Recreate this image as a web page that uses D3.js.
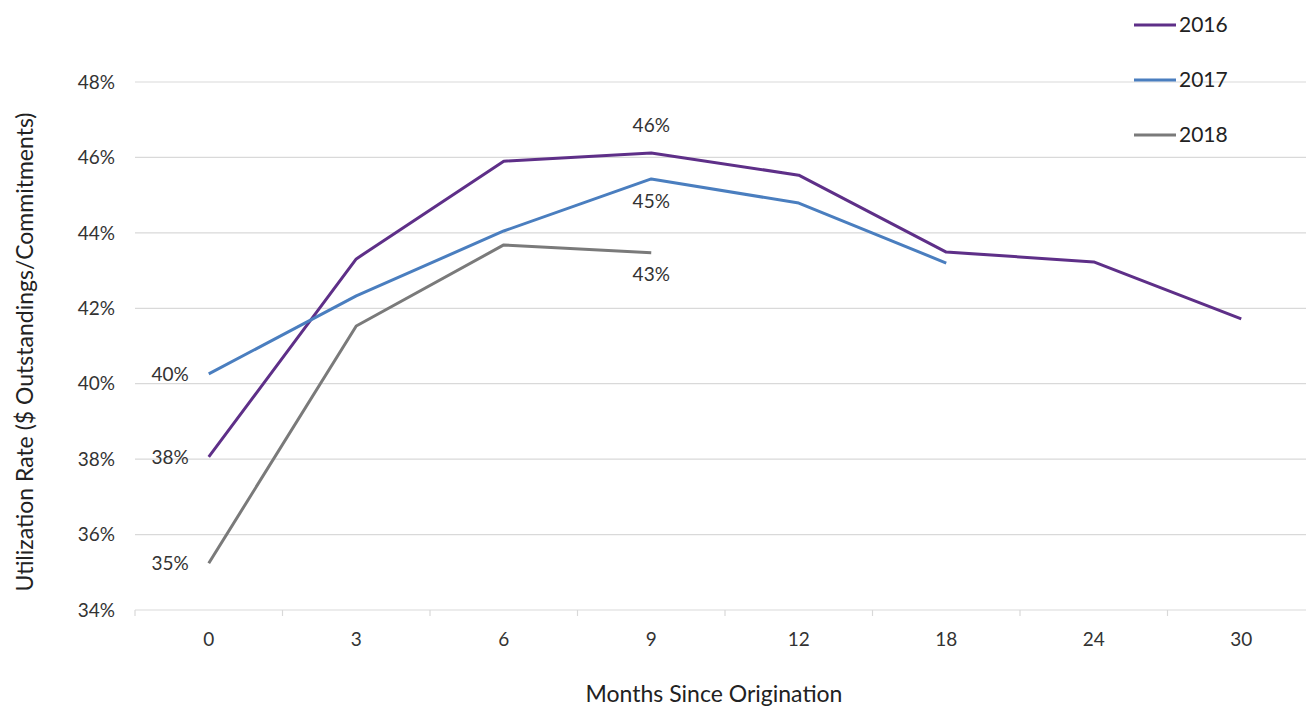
<!DOCTYPE html>
<html><head><meta charset="utf-8">
<script src="https://cdn.jsdelivr.net/npm/d3@7"></script>
<style>body{margin:0;background:#fff;} text{font-family:Lato,"Open Sans",sans-serif;}</style>
</head><body><svg id="c" width="1306" height="707"></svg>
<script>
const categories = ["0","3","6","9","12","18","24","30"];
const series2016 = [38.06, 43.31, 45.90, 46.12, 45.53, 43.49, 43.23, 41.72];
const series2017 = [40.26, 42.33, 44.05, 45.43, 44.79, 43.20];
const series2018 = [35.24, 41.53, 43.68, 43.47];
const yTicks = [34, 36, 38, 40, 42, 44, 46, 48];
const seriesNames = ["2016","2017","2018"];
const colors = ["#5e2f88","#4a7ebf","#7a7a7a"];
const labels = [
  {s:1, i:0, text:"40%", pos:"left"},
  {s:0, i:0, text:"38%", pos:"left"},
  {s:2, i:0, text:"35%", pos:"left"},
  {s:0, i:3, text:"46%", pos:"above"},
  {s:1, i:3, text:"45%", pos:"below"},
  {s:2, i:3, text:"43%", pos:"below"}
];
const allSeries = [series2016, series2017, series2018];

(function(){
const svg = d3.select("#c");
const pl = 135, pr = 1315, pt = 82, pb = 610;
const x = d3.scaleBand().domain(categories).range([pl, pr]);
const y = d3.scaleLinear().domain([34, 48]).range([pb, pt]);
const txt = "#333333";

svg.append("g").selectAll("line").data(yTicks).join("line")
  .attr("x1", pl).attr("x2", pr)
  .attr("y1", d => y(d)).attr("y2", d => y(d))
  .attr("stroke", "#d9d9d9").attr("stroke-width", 1.2);

svg.append("g").selectAll("text").data(yTicks).join("text")
  .attr("x", 115).attr("y", d => y(d)).attr("dy", "0.35em")
  .attr("text-anchor", "end").attr("font-size", 19).attr("fill", txt)
  .text(d => d + "%");

const xAxis = d3.axisBottom(x).tickSize(0).tickPadding(23);
const gx = svg.append("g").attr("transform", `translate(0,${pb})`).call(xAxis);
gx.select(".domain").remove();
gx.selectAll("text").attr("font-size", 19).attr("fill", txt).style("font-family","Lato,'Open Sans',sans-serif");
const bounds = categories.map(c => x(c)).concat([pr]);
svg.append("g").selectAll("line").data(bounds).join("line")
  .attr("x1", d => d).attr("x2", d => d)
  .attr("y1", pb).attr("y2", pb + 6)
  .attr("stroke", "#d9d9d9").attr("stroke-width", 1.2);

const line = d3.line().x((d, i) => x(categories[i]) + x.bandwidth() / 2).y(d => y(d));
allSeries.forEach((s, k) => {
  svg.append("path").datum(s).attr("d", line)
    .attr("fill", "none").attr("stroke", colors[k]).attr("stroke-width", 3)
    .attr("stroke-linejoin", "round");
});

svg.append("g").selectAll("text").data(labels).join("text")
  .attr("x", d => {
    const cx = x(categories[d.i]) + x.bandwidth() / 2;
    return d.pos === "left" ? cx - 20 : cx;
  })
  .attr("y", d => {
    const cy = y(allSeries[d.s][d.i]);
    return d.pos === "above" ? cy - 28 : d.pos === "below" ? cy + 22 : cy;
  })
  .attr("dy", "0.35em").attr("text-anchor", d => d.pos === "left" ? "end" : "middle")
  .attr("font-size", 19).attr("fill", txt)
  .text(d => d.text);

const lg = svg.append("g");
seriesNames.forEach((n, k) => {
  const ly = 25 + k * 55;
  lg.append("line").attr("x1", 1134).attr("x2", 1176).attr("y1", ly).attr("y2", ly)
    .attr("stroke", colors[k]).attr("stroke-width", 3);
  lg.append("text").attr("x", 1179).attr("y", ly).attr("dy", "0.35em")
    .attr("font-size", 21).attr("fill", "#222").text(n);
});

svg.append("text").attr("x", 714).attr("y", 694).attr("dy", "0.35em")
  .attr("text-anchor", "middle").attr("font-size", 23).attr("fill", "#222")
  .text("Months Since Origination");
svg.append("text").attr("transform", "translate(25,352) rotate(-90)")
  .attr("dy", "0.35em").attr("text-anchor", "middle").attr("font-size", 23).attr("fill", "#222")
  .text("Utilization Rate ($ Outstandings/Commitments)");
})();
</script></body></html>
